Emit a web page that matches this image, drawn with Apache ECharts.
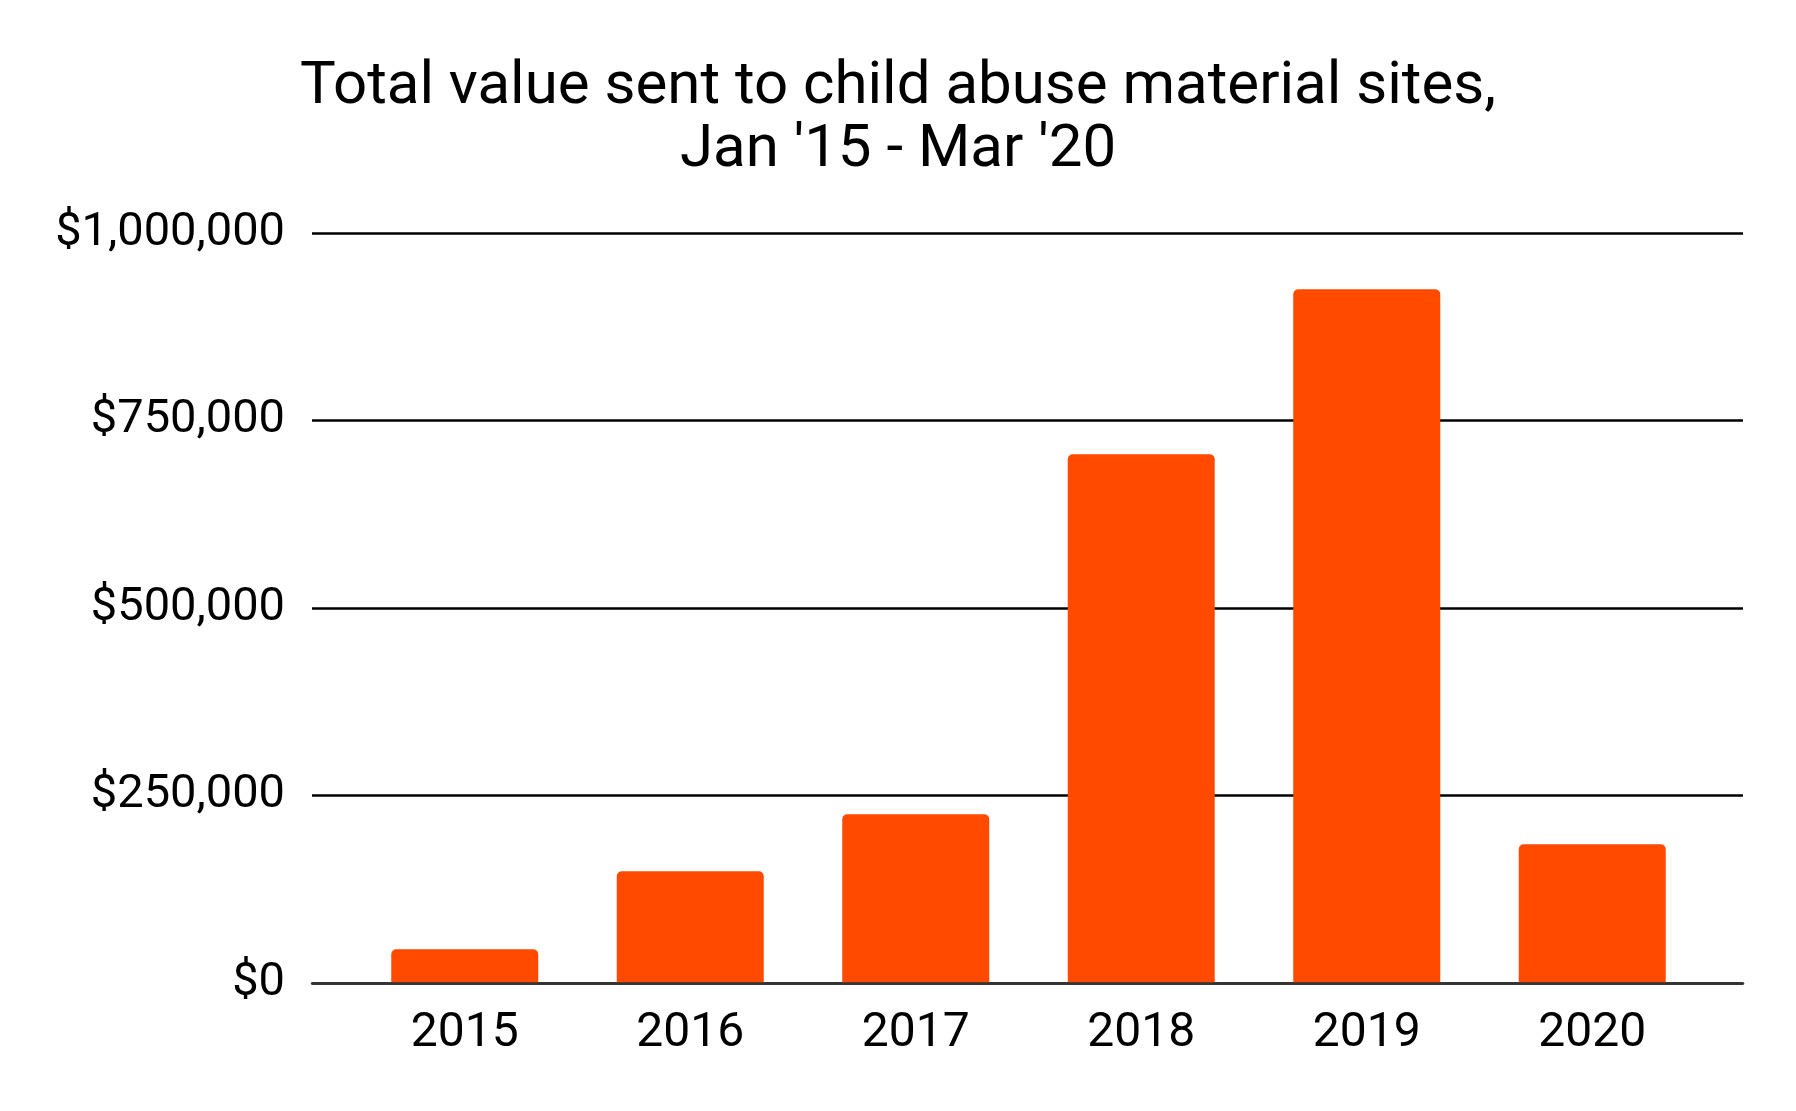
<!DOCTYPE html>
<html>
<head>
<meta charset="utf-8">
<script src="https://cdn.jsdelivr.net/npm/echarts@6/dist/echarts.min.js"></script>
<style>
  html, body { margin: 0; padding: 0; background: #fff; }
  #chart { width: 1796px; height: 1111px; }
</style>
</head>
<body>
<div id="chart"></div>
<script>
// data
var years = ['2015', '2016', '2017', '2018', '2019', '2020'];
var totals = [45000, 149000, 225000, 705000, 925000, 185000];
var yTicks = [0, 250000, 500000, 750000, 1000000];

var chart = echarts.init(document.getElementById('chart'));

function money(v) {
    return '$' + v.toString().replace(/\B(?=(\d{3})+(?!\d))/g, ',');
}

var option = {
    backgroundColor: '#ffffff',
    animation: false,
    title: {
        text: 'Total value sent to child abuse material sites,\nJan \'15 - Mar \'20',
        left: 893,
        top: 51,
        textAlign: 'center',
        textStyle: {
            fontFamily: 'Roboto',
            fontSize: 60,
            fontWeight: 'normal',
            color: '#000',
            lineHeight: 63
        }
    },
    // grid 0: gridlines + y labels, grid 1: bars
    grid: [
        { left: 312, right: 53, top: 233, bottom: 128 },
        { left: 352, right: 91, top: 233, bottom: 128 }
    ],
    xAxis: [{
        gridIndex: 0,
        type: 'value',
        min: 0,
        max: 1,
        z: 3,
        axisLine: { show: true, lineStyle: { color: '#333', width: 2.5 } },
        axisTick: { show: false },
        axisLabel: { show: false },
        splitLine: { show: false }
    }, {
        gridIndex: 1,
        type: 'category',
        data: years,
        axisLine: { show: false },
        axisTick: { show: false },
        axisLabel: {
            margin: 27,
            fontFamily: 'Roboto',
            fontSize: 48,
            color: '#000'
        }
    }],
    yAxis: [{
        gridIndex: 0,
        type: 'value',
        min: yTicks[0],
        max: yTicks[yTicks.length - 1],
        interval: yTicks[1] - yTicks[0],
        axisLine: { show: false },
        axisTick: { show: false },
        axisLabel: {
            margin: 27,
            fontFamily: 'Roboto',
            fontSize: 47,
            color: '#000',
            padding: [12, 0, 0, 0],
            formatter: money
        },
        splitLine: { show: true, lineStyle: { color: '#000', width: 2.6 } }
    }, {
        gridIndex: 1,
        type: 'value',
        min: yTicks[0],
        max: yTicks[yTicks.length - 1],
        show: false,
        splitLine: { show: false }
    }],
    series: [{
        type: 'bar',
        xAxisIndex: 1,
        yAxisIndex: 1,
        data: totals,
        barWidth: 147,
        itemStyle: {
            color: '#FF4A00',
            borderRadius: [5, 5, 0, 0]
        }
    }]
};

chart.setOption(option);
</script>
</body>
</html>
